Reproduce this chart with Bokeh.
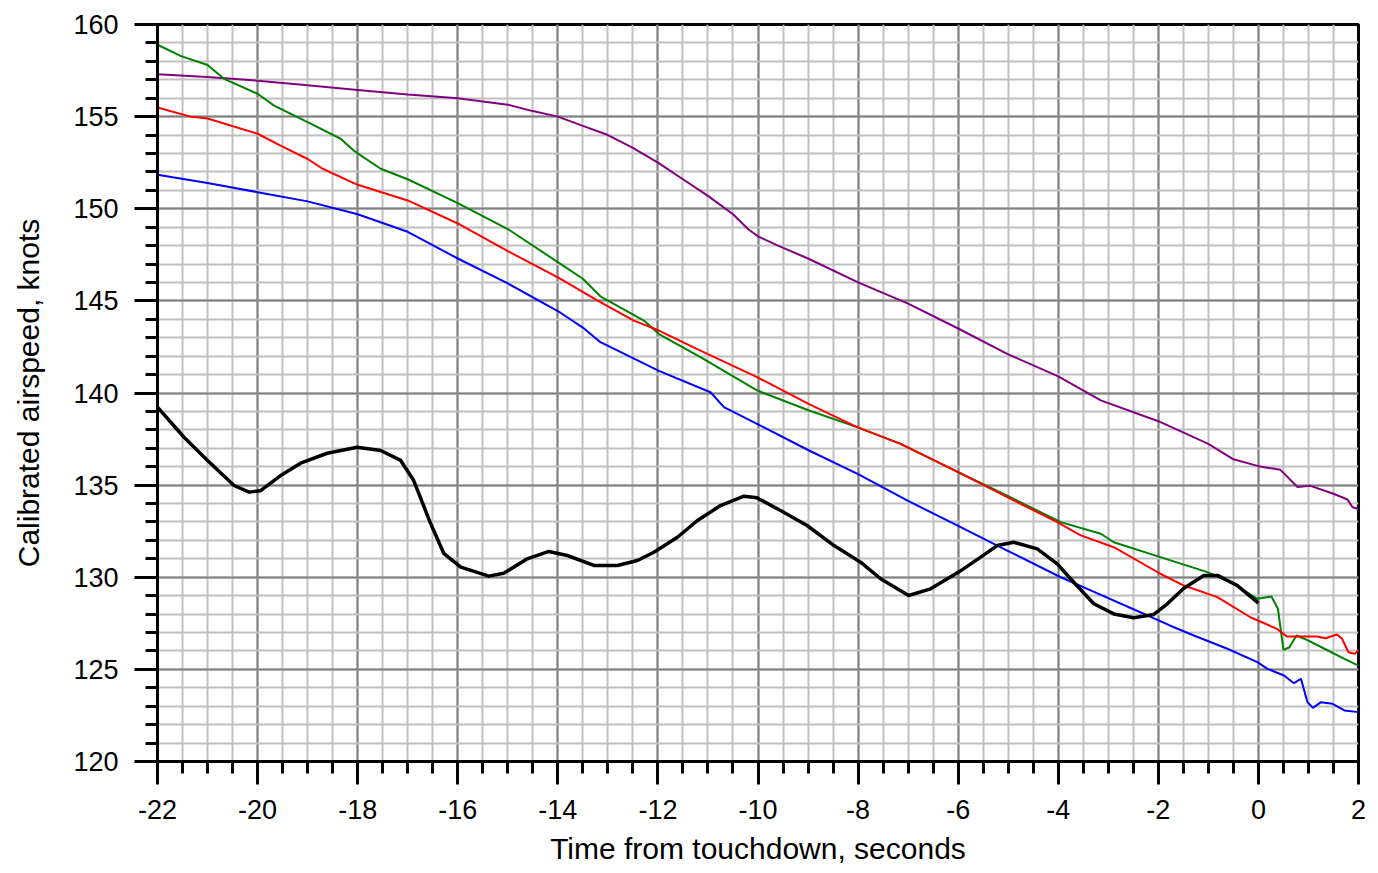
from bokeh.plotting import figure
from bokeh.models import Range1d, SingleIntervalTicker, CustomJSTickFormatter
from bokeh.embed import file_html
from bokeh.resources import INLINE

# ---- data ----
purple_t = [-22, -21, -20, -19, -18, -17, -16, -15, -14.5, -14, -13.5, -13, -12.5, -12, -11.5, -11,
            -10.5, -10.2, -10, -9.6, -9, -8, -7, -6, -5, -4, -3.15, -2, -1, -0.5, 0, 0.44, 0.78,
            1.04, 1.5, 1.78, 1.88, 2.0]
purple_v = [157.3, 157.15, 156.95, 156.7, 156.45, 156.2, 156.0, 155.65, 155.3, 155.0, 154.5, 154.0,
            153.3, 152.5, 151.6, 150.7, 149.7, 148.9, 148.5, 148.0, 147.3, 146.0, 144.85, 143.5,
            142.1, 140.9, 139.6, 138.47, 137.24, 136.4, 136.03, 135.83, 134.9, 134.96, 134.53,
            134.22, 133.8, 133.7]

green_t = [-22, -21.54, -21, -20.67, -20, -19.67, -19, -18.34, -18.08, -17.94, -17.54, -17, -16,
           -15, -14, -13.5, -13.15, -12.28, -11.98, -11.15, -10.02, -8.98, -8.02, -7.15, -6, -5,
           -3.95, -3.15, -2.89, -1.96, -1.02, -0.56, -0.02, 0.26, 0.39, 0.5, 0.62, 0.76, 0.99,
           1.32, 1.72, 2.0]
green_v = [158.9, 158.3, 157.8, 157.05, 156.24, 155.6, 154.7, 153.8, 153.16, 152.9, 152.17, 151.6,
           150.3, 148.9, 147.1, 146.2, 145.25, 143.93, 143.2, 141.95, 140.14, 139.05, 138.15,
           137.24, 135.7, 134.4, 132.99, 132.36, 131.9, 131.09, 130.28, 129.73, 128.83, 128.96,
           128.29, 126.06, 126.2, 126.84, 126.57, 126.12, 125.57, 125.2]

red_t = [-22, -21.34, -21, -20, -19.54, -19, -18.7, -18, -17, -16, -15, -14, -13.15, -12.48,
         -11.98, -11.15, -10.02, -8.98, -8.02, -7.15, -6, -4.89, -4.02, -3.55, -2.89, -1.96,
         -1.49, -0.82, -0.16, 0.37, 0.57, 1.17, 1.34, 1.57, 1.67, 1.8, 1.93, 2.0]
red_v = [155.5, 155.0, 154.9, 154.07, 153.43, 152.7, 152.17, 151.3, 150.45, 149.2, 147.7, 146.27,
         144.93, 143.93, 143.39, 142.3, 140.86, 139.4, 138.15, 137.24, 135.7, 134.17, 132.99,
         132.27, 131.63, 130.19, 129.55, 128.92, 127.83, 127.2, 126.78, 126.78, 126.69, 126.89,
         126.66, 125.93, 125.84, 126.06]

blue_t = [-22, -21, -20, -19, -18, -17, -16, -15, -14, -13.5, -13.15, -11.98, -10.95, -10.68,
          -10.02, -8.98, -8, -7.02, -6.02, -5.02, -3.95, -3.42, -2.36, -1.76, -1.29, -0.62,
          -0.02, 0.18, 0.51, 0.71, 0.85, 0.98, 1.09, 1.25, 1.48, 1.72, 2.0]
blue_v = [151.85, 151.4, 150.9, 150.4, 149.7, 148.75, 147.3, 145.95, 144.45, 143.55, 142.76, 141.2,
          140.04, 139.23, 138.33, 136.88, 135.6, 134.17, 132.81, 131.45, 130.0, 129.37, 128.1,
          127.37, 126.84, 126.12, 125.39, 125.03, 124.67, 124.25, 124.49, 123.22, 122.91, 123.22,
          123.13, 122.77, 122.68]

black_t = [-22, -21.47, -21, -20.47, -20.17, -19.94, -19.54, -19.14, -18.61, -18.01, -17.54,
           -17.14, -16.88, -16.54, -16.28, -15.94, -15.38, -15.08, -14.61, -14.18, -13.81,
           -13.28, -12.81, -12.41, -12.08, -11.61, -11.21, -10.75, -10.28, -10.02, -9.55, -9.02,
           -8.48, -7.95, -7.55, -6.99, -6.55, -5.99, -5.55, -5.22, -4.89, -4.42, -4.02, -3.69,
           -3.29, -2.89, -2.49, -2.09, -1.82, -1.49, -1.09, -0.82, -0.42, 0.0]
black_v = [139.23, 137.6, 136.34, 134.98, 134.62, 134.7, 135.52, 136.19, 136.73, 137.06, 136.88,
           136.34, 135.25, 132.9, 131.3, 130.55, 130.06, 130.22, 131.0, 131.4, 131.18, 130.64,
           130.64, 130.91, 131.36, 132.17, 133.08, 133.89, 134.4, 134.31, 133.62, 132.81, 131.72,
           130.82, 129.92, 129.01, 129.37, 130.28, 131.09, 131.72, 131.9, 131.54, 130.73, 129.73,
           128.56, 128.01, 127.8, 127.98, 128.56, 129.4, 130.1, 130.1, 129.55, 128.6]

x_label = "Time from touchdown, seconds"
y_label = "Calibrated airspeed, knots"

# ---- figure ----
p = figure(width=1378, height=873, output_backend="svg", toolbar_location=None,
           x_range=Range1d(-22, 2), y_range=Range1d(120, 160),
           min_border_left=157, min_border_right=20, min_border_top=24, min_border_bottom=112,
           background_fill_color="white", border_fill_color="white")

p.outline_line_color = "black"
p.outline_line_width = 3

p.xaxis.ticker = SingleIntervalTicker(interval=2, num_minor_ticks=4)
p.yaxis.ticker = SingleIntervalTicker(interval=5, num_minor_ticks=5)

for g in (p.xgrid, p.ygrid):
    g.grid_line_color = "#808080"
    g.grid_line_width = 2
    g.minor_grid_line_color = "#c0c0c0"
    g.minor_grid_line_width = 2

for ax in (p.xaxis, p.yaxis):
    ax.formatter = CustomJSTickFormatter(code="return tick.toString();")
    ax.axis_line_width = 3
    ax.axis_line_color = "black"
    ax.major_tick_line_width = 3
    ax.minor_tick_line_width = 3
    ax.major_tick_in = 0
    ax.minor_tick_in = 0
    ax.major_tick_out = 23
    ax.minor_tick_out = 12
    ax.major_label_text_font = "Liberation Sans"
    ax.major_label_text_font_size = "27px"
    ax.major_label_text_color = "black"
    ax.axis_label_text_font = "Liberation Sans"
    ax.axis_label_text_font_size = "30px"
    ax.axis_label_text_font_style = "normal"
    ax.axis_label_text_color = "black"

p.xaxis.axis_label = x_label
p.yaxis.axis_label = y_label
p.xaxis.major_label_standoff = 15
p.xaxis.axis_label_standoff = 10
p.yaxis.major_label_standoff = 16
p.yaxis.axis_label_standoff = 25

p.line(purple_t, purple_v, line_color="#800080", line_width=2)
p.line(green_t, green_v, line_color="#008000", line_width=2)
p.line(red_t, red_v, line_color="#ff0000", line_width=2)
p.line(blue_t, blue_v, line_color="#0000ff", line_width=2)
p.line(black_t, black_v, line_color="black", line_width=3.5, line_join="round")

open("out.html", "w").write(file_html(p, INLINE))
